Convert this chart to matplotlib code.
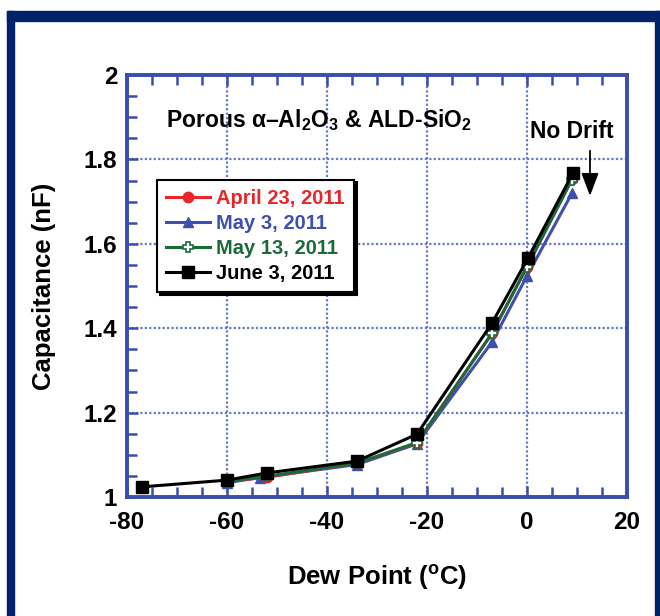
import matplotlib
matplotlib.use("Agg")
import matplotlib.pyplot as plt
from matplotlib.patches import Rectangle
from matplotlib.ticker import MultipleLocator

plt.rcParams['font.family'] = ['Liberation Sans', 'DejaVu Sans']
plt.rcParams['font.weight'] = 'bold'
plt.rcParams['axes.unicode_minus'] = False
plt.rcParams['mathtext.fontset'] = 'custom'
plt.rcParams['mathtext.rm'] = 'Liberation Sans:bold'
plt.rcParams['mathtext.bf'] = 'Liberation Sans:bold'
plt.rcParams['mathtext.it'] = 'Liberation Sans:bold'
plt.rcParams['mathtext.default'] = 'rm'

# ---- data ----
x_april = [-60, -52, -34, -22, -7, 0, 9]
y_april = [1.037, 1.047, 1.080, 1.128, 1.388, 1.545, 1.754]
x_may3 = [-60, -53.4, -34, -22, -7, 0, 9]
y_may3 = [1.034, 1.046, 1.077, 1.126, 1.367, 1.524, 1.720]
x_may13 = [-60, -52, -34, -22, -7, 0, 9]
y_may13 = [1.037, 1.049, 1.080, 1.129, 1.388, 1.546, 1.752]
x_june = [-77, -60, -52, -34, -22, -7, 0.2, 9.2]
y_june = [1.024, 1.040, 1.057, 1.085, 1.149, 1.412, 1.566, 1.768]

labels = ["April 23, 2011", "May 3, 2011", "May 13, 2011", "June 3, 2011"]
xticks = [-80, -60, -40, -20, 0, 20]
yticks = [1, 1.2, 1.4, 1.6, 1.8, 2]
ytick_labels = ["1", "1.2", "1.4", "1.6", "1.8", "2"]

red = '#e8262a'
blue = '#3f4fb0'
green = '#1b6b3a'
axis_blue = '#3a4db0'
navy = '#00226a'

fig = plt.figure(figsize=(6.6, 6.16), dpi=100)
W, H = 660, 616
ax = fig.add_axes([127 / W, 1 - 497 / H, 500 / W, 422 / H])

# navy frame
for (x0, y0, w, h) in [(7, 11, 7, 620), (7, 11, 660, 10), (655, 11, 10, 620)]:
    fig.patches.append(Rectangle((x0 / W, 1 - (y0 + h) / H), w / W, h / H,
                                 transform=fig.transFigure, color=navy, zorder=0))

lw = 2.2
ax.plot(x_may3, y_may3, color=blue, lw=lw, marker='^', ms=6.5, mfc=blue, mec=blue,
        label=labels[1], zorder=3)
ax.plot(x_april, y_april, color=red, lw=lw, marker='o', ms=7.5, mfc=red, mec=red,
        label=labels[0], zorder=4)
ax.plot(x_may13, y_may13, color=green, lw=lw, marker='P', ms=7, mfc='white', mec=green,
        mew=1.2, label=labels[2], zorder=5)
ax.plot(x_june, y_june, color='black', lw=lw, marker='s', ms=8.5, mfc='black', mec='black',
        label=labels[3], zorder=6)

ax.set_xlim(-80, 20)
ax.set_ylim(1, 2)
ax.set_xticks(xticks)
ax.set_yticks(yticks)
ax.set_yticklabels(ytick_labels)
ax.xaxis.set_minor_locator(MultipleLocator(5))
ax.yaxis.set_minor_locator(MultipleLocator(0.05))
ax.tick_params(which='both', direction='in', colors=axis_blue, labelcolor='black',
               labelsize=17.5, top=True, right=False, width=1.8)
ax.tick_params(which='major', length=8)
ax.tick_params(which='minor', length=7)
ax.tick_params(axis='x', pad=10)
ax.tick_params(axis='y', pad=7)
for lab in ax.get_xticklabels() + ax.get_yticklabels():
    lab.set_fontweight('bold')
for s in ax.spines.values():
    s.set_color(axis_blue)
    s.set_linewidth(2.8)

ax.grid(True, which='major', color='#6a78c8', linestyle=(0, (1, 1)), linewidth=1.6)
ax.set_axisbelow(True)

ax.set_xlabel(r'Dew Point ($^{\mathrm{o}}$C)', fontsize=18.5, fontweight='bold', labelpad=21)
ax.set_ylabel('Capacitance (nF)', fontsize=18.5, fontweight='bold', labelpad=20)

ax.text(0.078, 0.893, r'Porous $\alpha$–Al$_2$O$_3$ & ALD-SiO$_2$', transform=ax.transAxes,
        fontsize=16.5, fontweight='bold', va='center', ha='left')
ax.text(0.89, 0.866, 'No Drift', transform=ax.transAxes, fontsize=16.5,
        fontweight='bold', va='center', ha='center')
ax.annotate('', xy=(12.6, 1.707), xytext=(12.6, 1.827),
            arrowprops=dict(arrowstyle='-|>,head_length=1.0,head_width=0.38',
                            mutation_scale=14, color='black', lw=1.3))

handles, labs = ax.get_legend_handles_labels()
order = [labs.index(l) for l in labels]
leg = ax.legend([handles[i] for i in order], [labs[i] for i in order],
                loc='upper left', bbox_to_anchor=(0.06, 0.752), fontsize=14.5,
                frameon=True, fancybox=False, edgecolor='black', framealpha=1,
                shadow={'color': 'black', 'alpha': 1}, handlelength=2.2,
                labelspacing=0.3, borderpad=0.45, handletextpad=0.3,
                borderaxespad=0, labelcolor='linecolor')
leg.get_frame().set_linewidth(1.5)
for t in leg.get_texts():
    t.set_fontweight('bold')

fig.savefig('out.png', dpi=100)
